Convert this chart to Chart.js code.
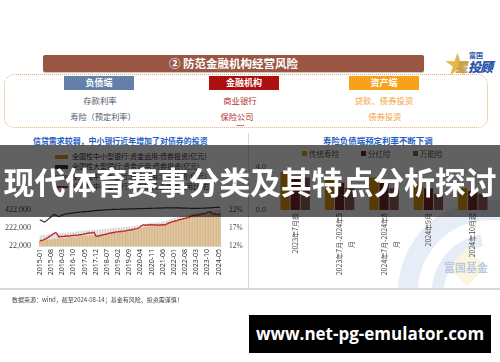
<!DOCTYPE html>
<html>
<head>
<meta charset="utf-8">
<script src="https://cdn.jsdelivr.net/npm/chart.js@4.4.1/dist/chart.umd.min.js"></script>
<style>
html,body{margin:0;padding:0;background:#fff;}
body{width:500px;height:362px;position:relative;overflow:hidden;font-family:"Noto Sans CJK SC","Noto Sans",sans-serif;}
.a{position:absolute;white-space:nowrap;}
.c{text-align:center;}
#topbar{left:43px;top:55px;width:381px;height:17px;background:#9b5643;border-radius:2px;color:#fff;font-weight:700;font-size:11.5px;line-height:17px;box-shadow:0 1px 1px rgba(0,0,0,.25);}
#frame{left:4px;top:74px;width:482px;height:52px;border:1px dotted #e2ae72;border-radius:10px;}
.hd{top:76px;height:14px;line-height:14px;width:70px;color:#fff;font-weight:700;font-size:9px;}
.r1{top:94px;font-size:8.4px;line-height:12px;}
.r2{top:110px;font-size:8.2px;line-height:12px;}
.ttl{color:#1f5fbf;font-weight:700;line-height:12px;}
.lg{font-size:7px;line-height:9px;color:#333;}
.sw{position:absolute;}
#banner{left:0;top:145px;width:500px;height:72px;background:rgba(0,0,0,0.62);z-index:20;}
#banner div{position:absolute;left:0;top:0;width:500px;height:72px;line-height:72px;text-align:center;color:#fff;font-weight:700;font-size:31px;letter-spacing:-0.2px;}
#site{left:249px;top:315px;width:242px;height:38px;background:#000;color:#fff;font-family:"Open Sans",sans-serif;font-weight:700;font-size:17px;line-height:38px;z-index:21;}
</style>
</head>
<body>
<!-- header band -->
<div class="a c" id="topbar">② 防范金融机构经营风险</div>
<div class="a" style="left:445px;top:49px;font-size:25px;line-height:27px;color:#e6b54a;">★</div>
<div class="a" style="left:469px;top:51px;font-size:7px;line-height:8px;color:#2a56a8;font-weight:700;">富国</div>
<div class="a" style="left:455px;top:60px;font-size:13px;line-height:14px;color:#c9a050;font-weight:900;font-style:italic;">星</div>
<div class="a" style="left:468px;top:60px;font-size:13px;line-height:14px;color:#2a56a8;font-weight:900;font-style:italic;letter-spacing:-1px;">投顾</div>

<div class="a" id="frame"></div>
<div class="a c hd" style="left:64px;background:#6480a8;">负债端</div>
<div class="a c hd" style="left:209px;background:#ad0f10;">金融机构</div>
<div class="a c hd" style="left:349px;background:#f8a21c;">资产端</div>

<div class="a c r1" style="left:50px;width:100px;color:#4e5868;">存款利率</div>
<div class="a c r2" style="left:53px;width:100px;color:#4e5868;">寿险（预定利率）</div>
<div class="a c r1" style="left:190px;width:100px;color:#b0302e;">商业银行</div>
<div class="a c r2" style="left:187px;width:100px;color:#b0302e;">保险公司</div>
<div class="a c" style="left:190px;width:100px;top:119px;font-size:8px;line-height:8px;color:#c0302e;letter-spacing:-1px;">......</div>
<div class="a c r1" style="left:334px;width:100px;color:#f4a33a;">贷款、债券投资</div>
<div class="a c r2" style="left:335px;width:100px;color:#f4a33a;">债券投资</div>

<!-- left panel -->
<div class="a ttl" style="left:33px;top:135px;font-size:7.95px;">信贷需求较弱，中小银行近年增加了对债券的投资</div>
<div class="sw" style="left:55px;top:155px;width:13px;height:4px;background:#d9952c;"></div>
<div class="a lg" style="left:72px;top:152px;">全国性中小型银行:资金运用:债券投资(亿元)</div>
<div class="sw" style="left:55px;top:165px;width:13px;height:4px;background:#2c3a4c;"></div>
<div class="a lg" style="left:72px;top:162px;">全国性大型银行:资金运用:债券投资(亿元)</div>
<div class="sw" style="left:55px;top:175px;width:13px;height:4px;background:#b9b9b9;"></div>
<div class="a lg" style="left:72px;top:172px;">全国性中小型银行:资金运用:证券投资[亿元]</div>
<div class="sw" style="left:55px;top:186px;width:13px;height:2px;background:#c42a2a;"></div>
<div class="a lg" style="left:72px;top:182px;">全国性中小型银行:债券投资占资金运用比(右)</div>
<div class="a" style="left:0;top:186px;width:250px;height:102px;"><canvas id="left"></canvas></div>

<!-- right panel -->
<canvas class="a" id="mark" width="120" height="94" style="left:380px;top:195px;"></canvas>
<div class="a ttl" style="left:323px;top:134px;font-size:8.45px;">寿险负债端预定利率不断下调</div>
<div class="sw" style="left:302px;top:151px;width:5px;height:5px;background:#e29b12;"></div>
<div class="a lg" style="left:309px;top:149px;font-size:7.5px;color:#555;">传统寿险</div>
<div class="sw" style="left:361px;top:151px;width:5px;height:5px;background:#7a2c2a;"></div>
<div class="a lg" style="left:368px;top:149px;font-size:7.5px;color:#555;">分红险</div>
<div class="sw" style="left:413px;top:151px;width:5px;height:5px;background:#93605c;"></div>
<div class="a lg" style="left:420px;top:149px;font-size:7.5px;color:#555;">万能险</div>
<div class="a" style="left:250px;top:155px;width:248px;height:133px;"><canvas id="right"></canvas></div>

<div class="a" style="left:248px;top:133px;width:1px;height:156px;background:#d6dce6;"></div>
<div class="a" style="left:0;top:288px;width:500px;height:2px;background:#d3d9e3;"></div>
<div class="a" style="left:12px;top:295px;font-size:6px;line-height:9px;color:#444;">数据来源：wind，截至2024-08-14；基金有风险，投资需谨慎！</div>

<div class="a" id="banner"><div>现代体育赛事分类及其特点分析探讨</div></div>
<div class="a c" id="site">www.net-pg-emulator.com</div>

<script>
// ---- left panel: bond holdings of banks, monthly ----
const months = [];
for (let y = 2015; y <= 2024; y++) {
  for (let m = 1; m <= 12; m++) {
    if (y === 2024 && m > 6) break;
    months.push(y + '-' + String(m).padStart(2, '0'));
  }
}
const shownMonths = ['2015-01','2015-08','2016-03','2016-10','2017-05','2017-12','2018-07','2019-02',
  '2019-09','2020-04','2020-11','2021-06','2022-01','2022-08','2023-03','2023-10','2024-05'];

const smallBankBonds = [
  78000, 80500, 83000, 85500, 88000, 90500, 93000, 95500, 97500, 99500, 101500, 103000,
  105000, 106500, 108500, 110500, 112500, 114500, 116000, 118000, 120000, 122000, 124000, 126000,
  128000, 129500, 131500, 133500, 135500, 137500, 139000, 140500, 142000, 143000, 144000, 144500,
  145500, 147500, 150000, 152500, 155000, 158000, 161000, 164000, 167000, 170000, 173000, 175500,
  177500, 179500, 181500, 183500, 185500, 187500, 189500, 191500, 193500, 195500, 197500, 200000,
  203000, 207000, 212000, 218000, 224000, 229000, 233000, 236000, 239000, 242000, 245000, 248000,
  250000, 252000, 254500, 257000, 260000, 264000, 268000, 272000, 278000, 284000, 290000, 296000,
  302000, 308000, 313000, 318000, 322000, 326000, 330000, 334000, 338000, 342000, 346000, 350000,
  352000, 354000, 356500, 358500, 360500, 362500, 364500, 366500, 368500, 370500, 372500, 374500,
  375500, 376500, 377500, 378500, 379500, 380500
];
const smallBankSecurities = [
  140000, 142000, 144500, 146500, 148500, 150500, 152500, 154500, 156500, 158500, 160500, 162000,
  163000, 164500, 166000, 168000, 170000, 172000, 174000, 176000, 178000, 180000, 182000, 184000,
  186000, 188000, 190000, 192000, 194000, 196000, 198000, 199000, 200000, 201000, 202000, 202500,
  203000, 205000, 207000, 209000, 211000, 213000, 215000, 217000, 219000, 221000, 223000, 225000,
  226000, 227000, 228000, 229000, 230000, 232000, 234000, 236000, 238000, 240000, 242000, 244000,
  247000, 250000, 254000, 258000, 262000, 266000, 270000, 272000, 274000, 276000, 278000, 280000,
  282000, 284000, 286000, 289000, 292000, 296000, 300000, 304000, 310000, 316000, 322000, 328000,
  334000, 340000, 345000, 350000, 354000, 358000, 362000, 366000, 370000, 374000, 378000, 382000,
  385000, 388000, 391000, 394000, 397000, 400000, 403000, 406000, 409000, 412000, 415000, 418000,
  420000, 422000, 424000, 426000, 428000, 430000
];
const largeBankBonds = [
  312000, 305000, 296000, 288000, 300000, 315000, 330000, 345000, 360000, 372000, 365000, 355000,
  350000, 358000, 365000, 372000, 378000, 380000, 382000, 385000, 388000, 390000, 392000, 395000,
  396000, 398000, 400000, 402000, 404000, 405000, 406000, 408000, 410000, 412000, 414000, 416000,
  418000, 419000, 420000, 421000, 422000, 424000, 425000, 426000, 427000, 428000, 429000, 430000,
  430000, 431000, 431000, 432000, 432000, 433000, 433000, 434000, 434000, 435000, 435000, 436000,
  436000, 437000, 437000, 438000, 438000, 439000, 439000, 440000, 440000, 441000, 441000, 442000,
  442000, 443000, 443000, 444000, 444000, 445000, 445000, 446000, 446000, 446000, 447000, 447000,
  447000, 446000, 446000, 445000, 445000, 444000, 444000, 443000, 443000, 442000, 442000, 441000,
  441000, 440000, 440000, 441000, 441000, 442000, 442000, 443000, 444000, 445000, 446000, 447000,
  448000, 449000, 450000, 451000, 452000, 453000
];
const bondSharePct = [
  13.4, 13.5, 13.6, 13.8, 14.0, 14.3, 14.6, 14.9, 15.2, 15.5, 15.7, 15.2,
  14.5, 14.6, 14.6, 14.7, 14.7, 14.8, 14.7, 14.8, 14.9, 14.9, 15.0, 14.9,
  15.0, 15.1, 15.1, 15.2, 15.3, 15.4, 15.5, 15.6, 15.6, 15.7, 15.8, 14.8,
  14.7, 14.8, 14.9, 15.0, 15.1, 15.2, 15.3, 15.5, 15.6, 15.6, 15.7, 15.8,
  15.9, 15.9, 16.0, 16.0, 16.1, 16.1, 16.2, 16.3, 16.4, 16.4, 16.5, 16.6,
  16.7, 16.8, 17.0, 17.3, 17.7, 17.8, 17.7, 17.8, 17.8, 17.8, 17.9, 17.8,
  17.8, 17.8, 17.7, 17.8, 17.8, 17.9, 17.8, 17.9, 18.2, 18.4, 18.5, 18.7,
  18.8, 18.9, 19.0, 19.2, 19.3, 19.4, 19.5, 19.6, 19.7, 19.8, 20.0, 20.2,
  20.4, 20.4, 20.5, 20.5, 20.6, 20.7, 20.8, 20.9, 21.0, 21.2, 21.4, 21.3,
  20.9, 20.8, 20.8, 20.7, 20.7, 20.6
];
const leftTicks = [22000, 222000, 422000];
const rightTicks = [12, 17, 22];

// ---- right panel: predetermined rates of life insurance ----
// the wrapped second line is padded with ideographic spaces so it sits mid-label
const rateCategories = ['2023年7月前', ['2023年7月-2024年5', '月\u3000\u3000\u3000\u3000'], ['2024年7月-2024年8', '月\u3000\u3000\u3000\u3000'], '2024年9月', '2024年10月起'];
const traditionalRate = [3.5, 3.0, 3.0, 2.5, 2.0];
const participatingRate = [3.0, 2.5, 2.5, 2.0, 1.75];
const universalRate = [3.0, 2.0, 2.0, 1.5, 1.5];

const serifTick = { family: 'Liberation Serif', size: 8 };
const sansTick = { family: '"Noto Sans", "Noto Sans CJK SC", sans-serif', size: 7 };

new Chart(document.getElementById('left'), {
  data: {
    labels: months,
    datasets: [
      { type: 'line', data: bondSharePct, yAxisID: 'y1', borderColor: '#c42a2a', borderWidth: 1.4, pointRadius: 0, tension: 0, order: 0 },
      { type: 'line', data: largeBankBonds, yAxisID: 'y', borderColor: '#2c3a4c', borderWidth: 1.2, pointRadius: 0, tension: 0, order: 0 },
      { type: 'bar', data: smallBankBonds, yAxisID: 'y', backgroundColor: '#dc9f48', order: 1, barPercentage: 1, categoryPercentage: 0.92 },
      { type: 'bar', data: smallBankSecurities, yAxisID: 'y', backgroundColor: '#bdbdbd', order: 1, barPercentage: 1, categoryPercentage: 0.92 }
    ]
  },
  options: {
    responsive: true, maintainAspectRatio: false, animation: false,
    layout: { padding: { top: 4, bottom: 0, left: 0, right: 0 } },
    plugins: { legend: { display: false }, tooltip: { enabled: false } },
    scales: {
      x: {
        grid: { display: false, drawTicks: false },
        border: { display: true, color: '#d8d8d8' },
        ticks: {
          autoSkip: false, maxRotation: 90, minRotation: 90, padding: 3, color: '#333', font: sansTick,
          callback: (v, i) => shownMonths.includes(months[i]) ? months[i] : ''
        },
        afterFit: s => { s.height = 42; }
      },
      y: {
        position: 'left', min: 22000, max: 547000,
        grid: { display: false, drawTicks: false }, border: { display: false },
        afterBuildTicks: s => { s.ticks = leftTicks.map(v => ({ value: v })); },
        ticks: { padding: 8, color: '#444', font: serifTick, callback: v => v.toLocaleString('en-US') },
        afterFit: s => { s.width = 39; }
      },
      y1: {
        position: 'right', min: 12, max: 25,
        grid: { display: false, drawTicks: false }, border: { display: false },
        afterBuildTicks: s => { s.ticks = rightTicks.map(v => ({ value: v })); },
        ticks: { padding: 8, color: '#444', font: { family: 'Liberation Serif', size: 7.5 }, callback: v => v + '%' },
        afterFit: s => { s.width = 29; }
      }
    }
  }
});

new Chart(document.getElementById('right'), {
  type: 'bar',
  data: {
    labels: rateCategories,
    datasets: [
      { label: '传统寿险', data: traditionalRate, backgroundColor: '#e29b12' },
      { label: '分红险', data: participatingRate, backgroundColor: '#7a2c2a' },
      { label: '万能险', data: universalRate, backgroundColor: '#93605c' }
    ]
  },
  options: {
    responsive: true, maintainAspectRatio: false, animation: false,
    layout: { padding: { top: 4, right: 3, left: 0, bottom: 0 } },
    plugins: { legend: { display: false }, tooltip: { enabled: false } },
    datasets: { bar: { barPercentage: 0.92, categoryPercentage: 0.68 } },
    scales: {
      x: {
        grid: { display: false, drawTicks: false },
        border: { display: false },
        ticks: {
          autoSkip: false, maxRotation: 90, minRotation: 90, padding: 3, color: '#444',
          font: { family: '"Noto Sans CJK SC", sans-serif', size: 7, lineHeight: 1.7 }
        },
        afterFit: s => { s.height = 78; }
      },
      y: {
        min: 0, max: 4,
        grid: { display: false, drawTicks: false }, border: { display: false },
        ticks: { stepSize: 1, padding: 7, color: '#666', font: { family: '"Noto Sans", sans-serif', size: 7.5 }, callback: v => v.toFixed(1) },
        afterFit: s => { s.width = 23; }
      }
    }
  }
});

// faint company watermark behind the right panel
(function () {
  const ctx = document.getElementById('mark').getContext('2d');
  const ox = 380, oy = 195;
  ctx.translate(-ox, -oy);
  ctx.strokeStyle = '#e6edf6';
  ctx.lineWidth = 20;
  ctx.beginPath(); ctx.arc(490, 292, 82, Math.PI * 0.95, Math.PI * 1.75); ctx.stroke();
  ctx.lineWidth = 12;
  ctx.beginPath(); ctx.arc(490, 292, 52, Math.PI * 0.95, Math.PI * 1.45); ctx.stroke();
  ctx.fillStyle = '#fbf4df';
  ctx.beginPath(); ctx.moveTo(467, 248); ctx.lineTo(486, 267); ctx.lineTo(467, 286); ctx.lineTo(448, 267); ctx.closePath(); ctx.fill();
  ctx.fillStyle = '#b8c9e1';
  ctx.font = '700 11px "Noto Sans CJK SC"';
  ctx.textAlign = 'center'; ctx.textBaseline = 'middle';
  ctx.fillText('富国基金', 466, 268);
})();
</script>
</body>
</html>
